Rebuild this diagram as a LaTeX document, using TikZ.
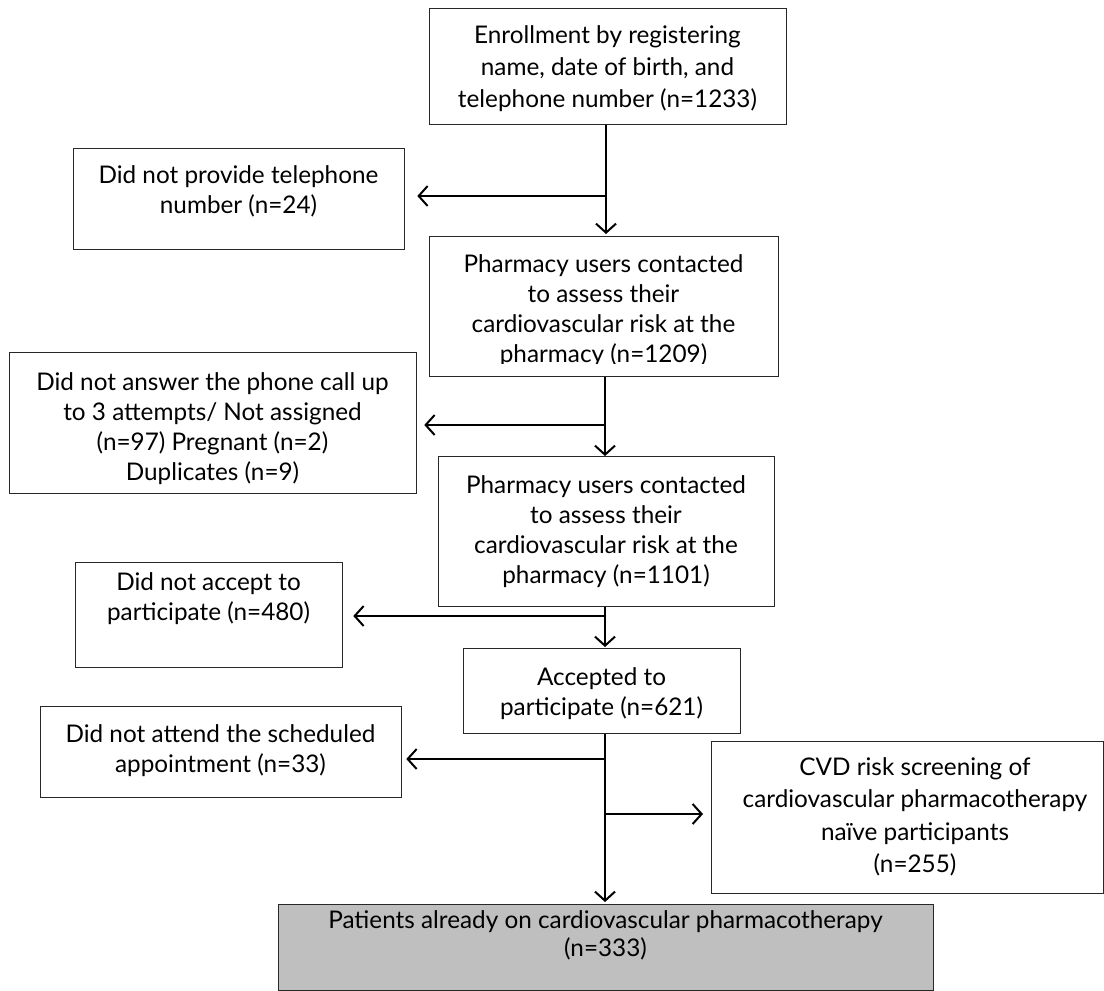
\documentclass[tikz,border=0pt]{standalone}
\usepackage{fontspec}
\setmainfont{Lato}
\usetikzlibrary{arrows.meta,calc}
\definecolor{boxgray}{RGB}{191,191,191}
\definecolor{edge}{RGB}{40,40,40}
\tikzset{
  box/.style={draw=edge, line width=1.3pt, fill=white, inner sep=0pt, anchor=north west},
  graybox/.style={box, fill=boxgray},
  txt/.style={align=center, inner sep=0pt, anchor=north, font=\fontsize{24.3}{30}\selectfont},
  arr/.style={line width=2pt, -{Straight Barb[length=9pt,width=20pt,line width=2pt]}},
}
\newcommand{\bx}[6]{% name, x1, y1, x2, y2, style
  \node[#6, minimum width=#4pt-#2pt, minimum height=#5pt-#3pt] (#1) at (#2,#3) {};}
\begin{document}
\begin{tikzpicture}[x=1pt,y=-1pt]
\useasboundingbox (0,0) rectangle (1104,991);
\clip (0,0) rectangle (1104,991);
% boxes
\bx{A}{429}{8}{786}{124}{box}
\bx{B}{73}{148}{404}{249}{box}
\bx{C}{429}{236}{778}{376}{box}
\bx{D}{9}{352}{416}{493}{box}
\bx{E}{438}{456}{774}{606}{box}
\bx{F}{463}{648}{740}{733}{box}
\bx{G}{75}{562}{342}{667}{box}
\bx{H}{40}{706}{401}{797}{box}
\bx{J}{711}{741}{1103}{893}{box}
\bx{I}{278}{904}{933}{990}{graybox}
% texts (anchor north = first baseline minus strut height)
\node[txt, font=\fontsize{24.3}{32}\selectfont] (tA) at (607.5,43-22.4) {\strut Enrollment by registering\\name, date of birth, and\\telephone number (n=1233)};
\node[txt] (tB) at (238.5,183-21) {\strut Did not provide telephone\\number (n=24)};
\begin{scope}
\clip (429,236) rectangle (778,363);
\node[txt] (tC) at (603.5,272-21) {\strut Pharmacy users contacted\\to assess their\\cardiovascular risk at the\\pharmacy (n=1209)};
\end{scope}
\node[txt] (tD) at (212.5,390-21) {\strut Did not answer the phone call up\\to 3 attempts/ Not assigned\\(n=97) Pregnant (n=2)\\Duplicates (n=9)};
\node[txt] (tE) at (606,493-21) {\strut Pharmacy users contacted\\to assess their\\cardiovascular risk at the\\pharmacy (n=1101)};
\node[txt] (tF) at (601.5,685-21) {\strut Accepted to\\participate (n=621)};
\node[txt] (tG) at (208.5,590-21) {\strut Did not accept to\\participate (n=480)};
\node[txt] (tH) at (220.5,742-21) {\strut Did not attend the scheduled\\appointment (n=33)};
\node[txt, font=\fontsize{24.3}{32.5}\selectfont] (tJ) at (915,775-22.75) {\strut CVD risk screening of\\cardiovascular pharmacotherapy\\naïve participants\\(n=255)};
\node[txt, font=\fontsize{24.3}{28}\selectfont] (tI) at (605.5,928-19.6) {\strut Patients already on cardiovascular pharmacotherapy\\(n=333)};
% trunk branch points
\coordinate (t1) at (606,196);
\coordinate (t2) at (605,425);
\coordinate (t3) at (605,616);
\coordinate (t4) at (605,759);
\coordinate (t5) at (605,814);
% connectors
\draw[arr, shorten >=2pt] (A.south -| t1) -- (C.north -| t1);
\draw[arr, shorten >=12pt] (t1) -- (t1 -| B.east);
\draw[arr] (C.south -| t2) -- (E.north -| t2);
\draw[arr, shorten >=7pt] (t2) -- (t2 -| D.east);
\draw[arr, shorten >=1pt] (E.south -| t3) -- (F.north -| t3);
\draw[arr, shorten >=10pt] (t3) -- (t3 -| G.east);
\draw[arr, shorten >=2pt] (F.south -| t4) -- (I.north -| t4);
\draw[arr, shorten >=4pt] (t4) -- (t4 -| H.east);
\draw[arr, shorten >=8pt] (t5) -- (t5 -| J.west);
\end{tikzpicture}
\end{document}
